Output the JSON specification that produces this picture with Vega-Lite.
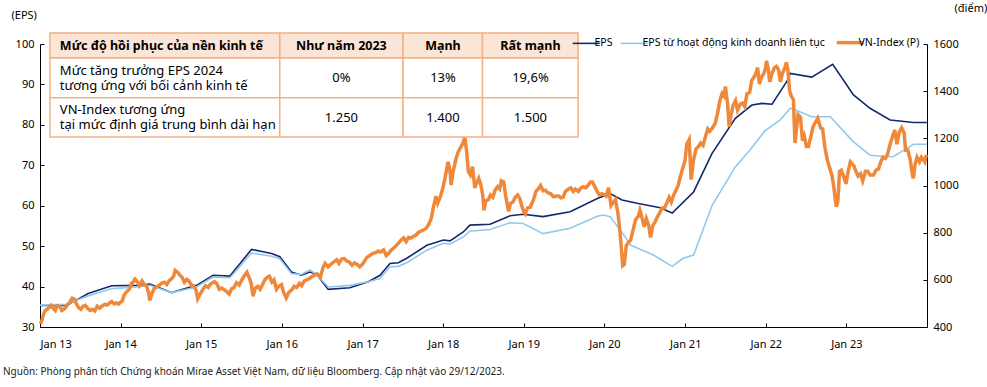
{
"$schema":"https://vega.github.io/schema/vega-lite/v6.json",
"width":887,"height":283,
"autosize":{"type":"none"},
"padding":{"left":40,"top":44,"right":60,"bottom":60},
"background":"white",
"config":{"font":"Noto Sans","view":{"stroke":null},
"axis":{"domainColor":"#000","tickColor":"#000","labelColor":"#000","labelFontSize":11,"titleFontSize":11,"titleFontWeight":"normal","titleColor":"#000","grid":false,"domainWidth":1,"tickWidth":1}},
"title":{"text":"Nguồn: Phòng phân tích Chứng khoán Mirae Asset Việt Nam, dữ liệu Bloomberg. Cập nhật vào 29/12/2023.","orient":"bottom","anchor":"start","frame":"group","fontSize":10,"fontWeight":"normal","color":"#222","dx":-37,"offset":18},
"datasets":{
"eps":[
{"d":"2013-01-01","s":"EPS","v":35.3},{"d":"2013-05-01","s":"EPS","v":35.3},{"d":"2013-08-07","s":"EPS","v":38.3},{"d":"2013-11-22","s":"EPS","v":40.2},{"d":"2014-03-15","s":"EPS","v":40.3},{"d":"2014-05-14","s":"EPS","v":40.6},{"d":"2014-08-20","s":"EPS","v":38.5},{"d":"2014-12-11","s":"EPS","v":40.3},{"d":"2015-02-24","s":"EPS","v":42.8},{"d":"2015-05-11","s":"EPS","v":42.6},{"d":"2015-08-17","s":"EPS","v":49.2},{"d":"2015-11-16","s":"EPS","v":48.2},{"d":"2015-12-23","s":"EPS","v":47.4},{"d":"2016-02-14","s":"EPS","v":43.6},{"d":"2016-03-30","s":"EPS","v":42.8},{"d":"2016-05-07","s":"EPS","v":43.6},{"d":"2016-06-06","s":"EPS","v":43.1},{"d":"2016-07-29","s":"EPS","v":39.3},{"d":"2016-11-04","s":"EPS","v":39.7},{"d":"2017-01-27","s":"EPS","v":41.2},{"d":"2017-03-21","s":"EPS","v":42.8},{"d":"2017-05-05","s":"EPS","v":45.7},{"d":"2017-06-12","s":"EPS","v":45.9},{"d":"2017-07-20","s":"EPS","v":47.0},{"d":"2017-10-19","s":"EPS","v":50.2},{"d":"2018-01-02","s":"EPS","v":51.5},{"d":"2018-02-01","s":"EPS","v":51.3},{"d":"2018-04-02","s":"EPS","v":53.5},{"d":"2018-05-02","s":"EPS","v":55.2},{"d":"2018-08-01","s":"EPS","v":55.4},{"d":"2018-10-31","s":"EPS","v":57.5},{"d":"2018-12-29","s":"EPS","v":57.9},{"d":"2019-03-29","s":"EPS","v":57.3},{"d":"2019-07-30","s":"EPS","v":58.5},{"d":"2019-11-30","s":"EPS","v":61.8},{"d":"2020-01-27","s":"EPS","v":63.0},{"d":"2020-03-21","s":"EPS","v":61.4},{"d":"2020-05-28","s":"EPS","v":60.6},{"d":"2020-09-10","s":"EPS","v":59.5},{"d":"2020-11-03","s":"EPS","v":58.2},{"d":"2021-02-08","s":"EPS","v":63.4},{"d":"2021-05-02","s":"EPS","v":72.9},{"d":"2021-08-16","s":"EPS","v":81.6},{"d":"2021-10-30","s":"EPS","v":84.9},{"d":"2021-12-15","s":"EPS","v":85.3},{"d":"2022-01-29","s":"EPS","v":85.1},{"d":"2022-04-07","s":"EPS","v":90.8},{"d":"2022-04-22","s":"EPS","v":92.7},{"d":"2022-07-28","s":"EPS","v":91.8},{"d":"2022-10-31","s":"EPS","v":95.0},{"d":"2023-02-02","s":"EPS","v":87.4},{"d":"2023-04-18","s":"EPS","v":84.1},{"d":"2023-07-18","s":"EPS","v":81.2},{"d":"2023-11-01","s":"EPS","v":80.6},{"d":"2023-12-31","s":"EPS","v":80.6},
{"d":"2013-01-01","s":"EPS từ hoạt động kinh doanh liên tục","v":35.4},{"d":"2013-05-01","s":"EPS từ hoạt động kinh doanh liên tục","v":35.6},{"d":"2013-08-07","s":"EPS từ hoạt động kinh doanh liên tục","v":37.7},{"d":"2013-11-22","s":"EPS từ hoạt động kinh doanh liên tục","v":39.5},{"d":"2014-03-15","s":"EPS từ hoạt động kinh doanh liên tục","v":39.9},{"d":"2014-05-14","s":"EPS từ hoạt động kinh doanh liên tục","v":40.3},{"d":"2014-08-20","s":"EPS từ hoạt động kinh doanh liên tục","v":38.5},{"d":"2014-12-11","s":"EPS từ hoạt động kinh doanh liên tục","v":39.9},{"d":"2015-02-24","s":"EPS từ hoạt động kinh doanh liên tục","v":42.4},{"d":"2015-05-11","s":"EPS từ hoạt động kinh doanh liên tục","v":42.2},{"d":"2015-08-17","s":"EPS từ hoạt động kinh doanh liên tục","v":48.3},{"d":"2015-11-16","s":"EPS từ hoạt động kinh doanh liên tục","v":47.5},{"d":"2015-12-23","s":"EPS từ hoạt động kinh doanh liên tục","v":46.9},{"d":"2016-02-14","s":"EPS từ hoạt động kinh doanh liên tục","v":43.2},{"d":"2016-03-30","s":"EPS từ hoạt động kinh doanh liên tục","v":43.0},{"d":"2016-05-07","s":"EPS từ hoạt động kinh doanh liên tục","v":44.1},{"d":"2016-06-06","s":"EPS từ hoạt động kinh doanh liên tục","v":43.0},{"d":"2016-07-29","s":"EPS từ hoạt động kinh doanh liên tục","v":39.9},{"d":"2016-11-04","s":"EPS từ hoạt động kinh doanh liên tục","v":40.3},{"d":"2017-01-27","s":"EPS từ hoạt động kinh doanh liên tục","v":41.2},{"d":"2017-03-21","s":"EPS từ hoạt động kinh doanh liên tục","v":42.0},{"d":"2017-05-05","s":"EPS từ hoạt động kinh doanh liên tục","v":44.9},{"d":"2017-06-12","s":"EPS từ hoạt động kinh doanh liên tục","v":45.0},{"d":"2017-07-20","s":"EPS từ hoạt động kinh doanh liên tục","v":45.9},{"d":"2017-10-19","s":"EPS từ hoạt động kinh doanh liên tục","v":49.0},{"d":"2018-01-02","s":"EPS từ hoạt động kinh doanh liên tục","v":50.7},{"d":"2018-02-01","s":"EPS từ hoạt động kinh doanh liên tục","v":50.5},{"d":"2018-04-02","s":"EPS từ hoạt động kinh doanh liên tục","v":52.3},{"d":"2018-05-02","s":"EPS từ hoạt động kinh doanh liên tục","v":53.7},{"d":"2018-08-01","s":"EPS từ hoạt động kinh doanh liên tục","v":54.1},{"d":"2018-10-31","s":"EPS từ hoạt động kinh doanh liên tục","v":55.8},{"d":"2018-12-29","s":"EPS từ hoạt động kinh doanh liên tục","v":55.6},{"d":"2019-03-29","s":"EPS từ hoạt động kinh doanh liên tục","v":53.1},{"d":"2019-07-30","s":"EPS từ hoạt động kinh doanh liên tục","v":54.4},{"d":"2019-11-30","s":"EPS từ hoạt động kinh doanh liên tục","v":57.4},{"d":"2019-12-27","s":"EPS từ hoạt động kinh doanh liên tục","v":57.7},{"d":"2020-01-27","s":"EPS từ hoạt động kinh doanh liên tục","v":57.3},{"d":"2020-03-25","s":"EPS từ hoạt động kinh doanh liên tục","v":53.1},{"d":"2020-04-30","s":"EPS từ hoạt động kinh doanh liên tục","v":50.2},{"d":"2020-08-10","s":"EPS từ hoạt động kinh doanh liên tục","v":47.8},{"d":"2020-11-03","s":"EPS từ hoạt động kinh doanh liên tục","v":45.0},{"d":"2020-12-23","s":"EPS từ hoạt động kinh doanh liên tục","v":47.0},{"d":"2021-02-08","s":"EPS từ hoạt động kinh doanh liên tục","v":47.8},{"d":"2021-05-03","s":"EPS từ hoạt động kinh doanh liên tục","v":60.1},{"d":"2021-08-16","s":"EPS từ hoạt động kinh doanh liên tục","v":69.6},{"d":"2021-10-21","s":"EPS từ hoạt động kinh doanh liên tục","v":73.8},{"d":"2021-12-28","s":"EPS từ hoạt động kinh doanh liên tục","v":78.5},{"d":"2022-03-07","s":"EPS từ hoạt động kinh doanh liên tục","v":81.2},{"d":"2022-04-22","s":"EPS từ hoạt động kinh doanh liên tục","v":84.1},{"d":"2022-05-15","s":"EPS từ hoạt động kinh doanh liên tục","v":83.7},{"d":"2022-07-28","s":"EPS từ hoạt động kinh doanh liên tục","v":82.0},{"d":"2022-10-20","s":"EPS từ hoạt động kinh doanh liên tục","v":82.0},{"d":"2023-02-02","s":"EPS từ hoạt động kinh doanh liên tục","v":75.8},{"d":"2023-04-18","s":"EPS từ hoạt động kinh doanh liên tục","v":72.5},{"d":"2023-06-02","s":"EPS từ hoạt động kinh doanh liên tục","v":72.3},{"d":"2023-08-01","s":"EPS từ hoạt động kinh doanh liên tục","v":72.1},{"d":"2023-11-01","s":"EPS từ hoạt động kinh doanh liên tục","v":75.2},{"d":"2023-12-31","s":"EPS từ hoạt động kinh doanh liên tục","v":75.2}
],
"vn":[
{"d":"2013-01-02","v":413},{"d":"2013-01-09","v":425},{"d":"2013-01-17","v":455},{"d":"2013-01-25","v":470},{"d":"2013-02-06","v":478},{"d":"2013-02-20","v":492},{"d":"2013-03-01","v":480},{"d":"2013-03-11","v":470},{"d":"2013-03-20","v":490},{"d":"2013-04-01","v":487},{"d":"2013-04-10","v":470},{"d":"2013-04-22","v":478},{"d":"2013-05-06","v":495},{"d":"2013-05-16","v":505},{"d":"2013-05-27","v":522},{"d":"2013-06-06","v":518},{"d":"2013-06-14","v":500},{"d":"2013-06-25","v":482},{"d":"2013-07-05","v":475},{"d":"2013-07-15","v":488},{"d":"2013-07-25","v":492},{"d":"2013-08-06","v":478},{"d":"2013-08-15","v":470},{"d":"2013-08-26","v":475},{"d":"2013-09-06","v":468},{"d":"2013-09-17","v":488},{"d":"2013-09-27","v":480},{"d":"2013-10-08","v":488},{"d":"2013-10-21","v":496},{"d":"2013-11-01","v":493},{"d":"2013-11-12","v":502},{"d":"2013-11-22","v":508},{"d":"2013-12-03","v":498},{"d":"2013-12-13","v":502},{"d":"2013-12-23","v":497},{"d":"2013-12-31","v":505},
{"d":"2014-01-08","v":510},{"d":"2014-01-17","v":535},{"d":"2014-01-28","v":550},{"d":"2014-02-10","v":560},{"d":"2014-02-19","v":585},{"d":"2014-02-27","v":590},{"d":"2014-03-07","v":603},{"d":"2014-03-18","v":592},{"d":"2014-03-27","v":575},{"d":"2014-04-08","v":595},{"d":"2014-04-18","v":580},{"d":"2014-04-28","v":575},{"d":"2014-05-08","v":545},{"d":"2014-05-13","v":512},{"d":"2014-05-22","v":540},{"d":"2014-06-03","v":565},{"d":"2014-06-13","v":570},{"d":"2014-06-25","v":577},{"d":"2014-07-07","v":586},{"d":"2014-07-18","v":590},{"d":"2014-07-29","v":580},{"d":"2014-08-08","v":595},{"d":"2014-08-20","v":605},{"d":"2014-08-29","v":615},{"d":"2014-09-05","v":640},{"d":"2014-09-16","v":632},{"d":"2014-09-26","v":620},{"d":"2014-10-07","v":610},{"d":"2014-10-17","v":590},{"d":"2014-10-28","v":602},{"d":"2014-11-07","v":595},{"d":"2014-11-19","v":576},{"d":"2014-11-28","v":575},{"d":"2014-12-09","v":555},{"d":"2014-12-16","v":520},{"d":"2014-12-24","v":535},{"d":"2014-12-31","v":545},
{"d":"2015-01-09","v":560},{"d":"2015-01-21","v":575},{"d":"2015-02-02","v":568},{"d":"2015-02-12","v":582},{"d":"2015-03-02","v":592},{"d":"2015-03-12","v":585},{"d":"2015-03-24","v":560},{"d":"2015-04-03","v":565},{"d":"2015-04-15","v":558},{"d":"2015-04-27","v":550},{"d":"2015-05-08","v":540},{"d":"2015-05-19","v":562},{"d":"2015-05-29","v":567},{"d":"2015-06-10","v":588},{"d":"2015-06-22","v":578},{"d":"2015-07-03","v":598},{"d":"2015-07-14","v":615},{"d":"2015-07-27","v":632},{"d":"2015-08-06","v":610},{"d":"2015-08-14","v":590},{"d":"2015-08-24","v":530},{"d":"2015-09-03","v":565},{"d":"2015-09-15","v":572},{"d":"2015-09-25","v":560},{"d":"2015-10-06","v":580},{"d":"2015-10-16","v":600},{"d":"2015-10-27","v":610},{"d":"2015-11-06","v":615},{"d":"2015-11-17","v":590},{"d":"2015-11-27","v":600},{"d":"2015-12-08","v":560},{"d":"2015-12-18","v":572},{"d":"2015-12-31","v":579},
{"d":"2016-01-08","v":550},{"d":"2016-01-21","v":523},{"d":"2016-02-01","v":545},{"d":"2016-02-17","v":560},{"d":"2016-02-26","v":572},{"d":"2016-03-09","v":568},{"d":"2016-03-21","v":585},{"d":"2016-03-31","v":575},{"d":"2016-04-12","v":595},{"d":"2016-04-22","v":600},{"d":"2016-05-05","v":605},{"d":"2016-05-18","v":615},{"d":"2016-05-30","v":620},{"d":"2016-06-09","v":625},{"d":"2016-06-24","v":612},{"d":"2016-07-05","v":650},{"d":"2016-07-15","v":670},{"d":"2016-07-29","v":655},{"d":"2016-08-09","v":665},{"d":"2016-08-22","v":675},{"d":"2016-09-06","v":685},{"d":"2016-09-16","v":670},{"d":"2016-09-28","v":688},{"d":"2016-10-10","v":690},{"d":"2016-10-21","v":680},{"d":"2016-11-02","v":675},{"d":"2016-11-14","v":662},{"d":"2016-11-25","v":672},{"d":"2016-12-07","v":665},{"d":"2016-12-19","v":655},{"d":"2016-12-30","v":665},
{"d":"2017-01-10","v":680},{"d":"2017-01-20","v":695},{"d":"2017-02-06","v":705},{"d":"2017-02-17","v":712},{"d":"2017-03-01","v":715},{"d":"2017-03-13","v":722},{"d":"2017-03-24","v":718},{"d":"2017-04-06","v":727},{"d":"2017-04-18","v":703},{"d":"2017-04-28","v":712},{"d":"2017-05-10","v":725},{"d":"2017-05-22","v":735},{"d":"2017-06-02","v":745},{"d":"2017-06-14","v":758},{"d":"2017-06-26","v":770},{"d":"2017-07-06","v":778},{"d":"2017-07-17","v":762},{"d":"2017-07-28","v":780},{"d":"2017-08-09","v":778},{"d":"2017-08-21","v":785},{"d":"2017-08-31","v":790},{"d":"2017-09-12","v":802},{"d":"2017-09-25","v":808},{"d":"2017-10-05","v":812},{"d":"2017-10-17","v":820},{"d":"2017-10-27","v":835},{"d":"2017-11-08","v":860},{"d":"2017-11-17","v":905},{"d":"2017-11-29","v":955},{"d":"2017-12-07","v":925},{"d":"2017-12-18","v":950},{"d":"2017-12-29","v":984},
{"d":"2018-01-09","v":1030},{"d":"2018-01-23","v":1100},{"d":"2018-01-31","v":1070},{"d":"2018-02-06","v":1002},{"d":"2018-02-13","v":1050},{"d":"2018-02-27","v":1110},{"d":"2018-03-09","v":1140},{"d":"2018-03-20","v":1160},{"d":"2018-03-29","v":1175},{"d":"2018-04-09","v":1205},{"d":"2018-04-17","v":1145},{"d":"2018-04-25","v":1060},{"d":"2018-05-04","v":1045},{"d":"2018-05-14","v":1080},{"d":"2018-05-24","v":990},{"d":"2018-06-01","v":1010},{"d":"2018-06-11","v":1030},{"d":"2018-06-21","v":1000},{"d":"2018-06-29","v":960},{"d":"2018-07-05","v":895},{"d":"2018-07-13","v":935},{"d":"2018-07-24","v":940},{"d":"2018-08-03","v":960},{"d":"2018-08-14","v":950},{"d":"2018-08-24","v":980},{"d":"2018-09-04","v":995},{"d":"2018-09-14","v":985},{"d":"2018-09-21","v":1020},{"d":"2018-10-02","v":1015},{"d":"2018-10-11","v":955},{"d":"2018-10-24","v":890},{"d":"2018-11-02","v":925},{"d":"2018-11-13","v":930},{"d":"2018-11-23","v":950},{"d":"2018-12-04","v":960},{"d":"2018-12-14","v":945},{"d":"2018-12-24","v":910},{"d":"2018-12-31","v":892},
{"d":"2019-01-08","v":880},{"d":"2019-01-18","v":905},{"d":"2019-01-30","v":908},{"d":"2019-02-14","v":940},{"d":"2019-02-25","v":975},{"d":"2019-03-07","v":985},{"d":"2019-03-18","v":1000},{"d":"2019-03-29","v":978},{"d":"2019-04-09","v":980},{"d":"2019-04-19","v":970},{"d":"2019-05-03","v":965},{"d":"2019-05-16","v":952},{"d":"2019-05-28","v":955},{"d":"2019-06-07","v":955},{"d":"2019-06-18","v":948},{"d":"2019-06-28","v":950},{"d":"2019-07-09","v":975},{"d":"2019-07-22","v":985},{"d":"2019-08-02","v":990},{"d":"2019-08-13","v":975},{"d":"2019-08-23","v":985},{"d":"2019-09-05","v":975},{"d":"2019-09-17","v":990},{"d":"2019-09-27","v":995},{"d":"2019-10-08","v":990},{"d":"2019-10-18","v":1000},{"d":"2019-10-30","v":1015},{"d":"2019-11-08","v":1015},{"d":"2019-11-19","v":995},{"d":"2019-11-29","v":975},{"d":"2019-12-10","v":960},{"d":"2019-12-20","v":965},{"d":"2019-12-31","v":961},
{"d":"2020-01-09","v":955},{"d":"2020-01-20","v":990},{"d":"2020-01-31","v":915},{"d":"2020-02-11","v":930},{"d":"2020-02-20","v":940},{"d":"2020-03-02","v":885},{"d":"2020-03-12","v":800},{"d":"2020-03-19","v":720},{"d":"2020-03-24","v":660},{"d":"2020-03-31","v":665},{"d":"2020-04-09","v":745},{"d":"2020-04-20","v":760},{"d":"2020-04-29","v":768},{"d":"2020-05-11","v":815},{"d":"2020-05-21","v":855},{"d":"2020-06-03","v":870},{"d":"2020-06-10","v":895},{"d":"2020-06-19","v":865},{"d":"2020-06-29","v":825},{"d":"2020-07-09","v":860},{"d":"2020-07-20","v":830},{"d":"2020-07-28","v":780},{"d":"2020-08-07","v":830},{"d":"2020-08-17","v":845},{"d":"2020-08-27","v":865},{"d":"2020-09-08","v":885},{"d":"2020-09-18","v":905},{"d":"2020-09-29","v":905},{"d":"2020-10-09","v":925},{"d":"2020-10-20","v":950},{"d":"2020-10-30","v":930},{"d":"2020-11-10","v":960},{"d":"2020-11-20","v":980},{"d":"2020-11-30","v":1000},{"d":"2020-12-09","v":1035},{"d":"2020-12-18","v":1065},{"d":"2020-12-31","v":1104},
{"d":"2021-01-08","v":1175},{"d":"2021-01-19","v":1195},{"d":"2021-01-28","v":1025},{"d":"2021-02-08","v":1110},{"d":"2021-02-19","v":1155},{"d":"2021-03-02","v":1165},{"d":"2021-03-12","v":1180},{"d":"2021-03-23","v":1170},{"d":"2021-04-02","v":1205},{"d":"2021-04-13","v":1240},{"d":"2021-04-22","v":1230},{"d":"2021-05-05","v":1245},{"d":"2021-05-17","v":1265},{"d":"2021-05-27","v":1305},{"d":"2021-06-07","v":1360},{"d":"2021-06-17","v":1390},{"d":"2021-06-25","v":1380},{"d":"2021-07-02","v":1420},{"d":"2021-07-12","v":1345},{"d":"2021-07-19","v":1250},{"d":"2021-07-28","v":1300},{"d":"2021-08-06","v":1340},{"d":"2021-08-17","v":1360},{"d":"2021-08-26","v":1320},{"d":"2021-09-07","v":1345},{"d":"2021-09-17","v":1350},{"d":"2021-09-28","v":1335},{"d":"2021-10-08","v":1390},{"d":"2021-10-20","v":1395},{"d":"2021-10-29","v":1445},{"d":"2021-11-09","v":1460},{"d":"2021-11-19","v":1480},{"d":"2021-11-25","v":1500},{"d":"2021-12-03","v":1430},{"d":"2021-12-13","v":1460},{"d":"2021-12-23","v":1475},{"d":"2021-12-31","v":1498},
{"d":"2022-01-04","v":1528},{"d":"2022-01-12","v":1495},{"d":"2022-01-19","v":1440},{"d":"2022-01-27","v":1470},{"d":"2022-02-09","v":1500},{"d":"2022-02-18","v":1505},{"d":"2022-02-28","v":1490},{"d":"2022-03-08","v":1440},{"d":"2022-03-17","v":1475},{"d":"2022-03-29","v":1500},{"d":"2022-04-04","v":1522},{"d":"2022-04-11","v":1490},{"d":"2022-04-19","v":1400},{"d":"2022-04-26","v":1380},{"d":"2022-05-06","v":1365},{"d":"2022-05-13","v":1180},{"d":"2022-05-20","v":1240},{"d":"2022-05-27","v":1300},{"d":"2022-06-07","v":1290},{"d":"2022-06-16","v":1190},{"d":"2022-06-24","v":1210},{"d":"2022-07-04","v":1165},{"d":"2022-07-13","v":1165},{"d":"2022-07-22","v":1200},{"d":"2022-08-03","v":1250},{"d":"2022-08-12","v":1265},{"d":"2022-08-24","v":1285},{"d":"2022-09-06","v":1245},{"d":"2022-09-15","v":1240},{"d":"2022-09-26","v":1160},{"d":"2022-10-06","v":1110},{"d":"2022-10-17","v":1075},{"d":"2022-10-27","v":1045},{"d":"2022-11-04","v":1000},{"d":"2022-11-16","v":910},{"d":"2022-11-23","v":930},{"d":"2022-12-01","v":1060},{"d":"2022-12-09","v":1065},{"d":"2022-12-19","v":1040},{"d":"2022-12-30","v":1007},
{"d":"2023-01-09","v":1060},{"d":"2023-01-19","v":1100},{"d":"2023-02-03","v":1085},{"d":"2023-02-13","v":1060},{"d":"2023-02-23","v":1040},{"d":"2023-03-06","v":1050},{"d":"2023-03-16","v":1020},{"d":"2023-03-28","v":1060},{"d":"2023-04-07","v":1060},{"d":"2023-04-18","v":1045},{"d":"2023-05-04","v":1045},{"d":"2023-05-15","v":1065},{"d":"2023-05-26","v":1070},{"d":"2023-06-06","v":1100},{"d":"2023-06-15","v":1120},{"d":"2023-06-27","v":1115},{"d":"2023-07-07","v":1135},{"d":"2023-07-18","v":1175},{"d":"2023-07-28","v":1205},{"d":"2023-08-08","v":1235},{"d":"2023-08-18","v":1175},{"d":"2023-08-28","v":1225},{"d":"2023-09-08","v":1245},{"d":"2023-09-19","v":1225},{"d":"2023-09-26","v":1150},{"d":"2023-10-06","v":1150},{"d":"2023-10-17","v":1110},{"d":"2023-10-26","v":1050},{"d":"2023-10-31","v":1030},{"d":"2023-11-08","v":1090},{"d":"2023-11-17","v":1120},{"d":"2023-11-28","v":1100},{"d":"2023-12-07","v":1120},{"d":"2023-12-15","v":1110},{"d":"2023-12-22","v":1100},{"d":"2023-12-29","v":1130}
],
"cells":[
{"part":"header","x0":"2013-02-15","x1":"2015-12-23","y0":96.53,"y1":102.72},
{"part":"header","x0":"2015-12-23","x1":"2017-07-03","y0":96.53,"y1":102.72},
{"part":"header","x0":"2017-07-03","x1":"2018-06-28","y0":96.53,"y1":102.72},
{"part":"header","x0":"2018-06-28","x1":"2019-09-04","y0":96.53,"y1":102.72},
{"part":"body","x0":"2013-02-15","x1":"2015-12-23","y0":86.71,"y1":96.53},
{"part":"body","x0":"2015-12-23","x1":"2017-07-03","y0":86.71,"y1":96.53},
{"part":"body","x0":"2017-07-03","x1":"2018-06-28","y0":86.71,"y1":96.53},
{"part":"body","x0":"2018-06-28","x1":"2019-09-04","y0":86.71,"y1":96.53},
{"part":"body","x0":"2013-02-15","x1":"2015-12-23","y0":76.98,"y1":86.71},
{"part":"body","x0":"2015-12-23","x1":"2017-07-03","y0":76.98,"y1":86.71},
{"part":"body","x0":"2017-07-03","x1":"2018-06-28","y0":76.98,"y1":86.71},
{"part":"body","x0":"2018-06-28","x1":"2019-09-04","y0":76.98,"y1":86.71}
],
"texts":[
{"part":"header","col":1,"t":"Mức độ hồi phục của nền kinh tế","x":"2013-04-01","y":99.6},
{"part":"header","col":2,"t":"Như năm 2023","x":"2016-09-27","y":99.6},
{"part":"header","col":3,"t":"Mạnh","x":"2017-12-31","y":99.6},
{"part":"header","col":4,"t":"Rất mạnh","x":"2019-01-31","y":99.6},
{"part":"body","col":1,"t":"Mức tăng trưởng EPS 2024\ntương ứng với bối cảnh kinh tế","x":"2013-04-01","y":93.3},
{"part":"body","col":2,"t":"0%","x":"2016-09-27","y":91.6},
{"part":"body","col":3,"t":"13%","x":"2017-12-31","y":91.6},
{"part":"body","col":4,"t":"19,6%","x":"2019-01-31","y":91.6},
{"part":"body","col":1,"t":"VN-Index tương ứng\ntại mức định giá trung bình dài hạn","x":"2013-04-01","y":83.65},
{"part":"body","col":2,"t":"1.250","x":"2016-09-27","y":81.8},
{"part":"body","col":3,"t":"1.400","x":"2017-12-31","y":81.8},
{"part":"body","col":4,"t":"1.500","x":"2019-01-31","y":81.8}
]
},
"layer":[
{"data":{"name":"eps"},
 "mark":{"type":"line","strokeWidth":1.6},
 "encoding":{
  "x":{"field":"d","type":"temporal","title":null,"scale":{"domain":[{"year":2013,"month":1,"date":1},{"year":2024,"month":1,"date":1}]},
   "axis":{"title":null,"format":"%b %y","values":[{"year":2013,"month":1,"date":1},{"year":2014,"month":1,"date":1},{"year":2015,"month":1,"date":1},{"year":2016,"month":1,"date":1},{"year":2017,"month":1,"date":1},{"year":2018,"month":1,"date":1},{"year":2019,"month":1,"date":1},{"year":2020,"month":1,"date":1},{"year":2021,"month":1,"date":1},{"year":2022,"month":1,"date":1},{"year":2023,"month":1,"date":1}],"tickSize":-4,"labelPadding":15}},
  "y":{"field":"v","type":"quantitative","scale":{"domain":[30,100],"nice":false,"zero":false},
   "axis":{"orient":"left","values":[30,40,50,60,70,80,90,100],"title":"(EPS)","titleAngle":0,"titleX":-29,"titleY":-29,"titleAlign":"left","titleBaseline":"middle","tickSize":-4,"labelPadding":10}},
  "color":{"field":"s","type":"nominal","scale":{"domain":["EPS","EPS từ hoạt động kinh doanh liên tục","VN-Index (P)"],"range":["#13296b","#90c9ec","#f0883a"]},
   "legend":{"orient":"none","legendX":541,"legendY":-7,"direction":"horizontal","title":null,"symbolType":"stroke","symbolSize":729,"labelFontSize":10.5,"labelColor":"#000","labelLimit":400,"columnPadding":4,"labelOffset":3,
    "encode":{"symbols":{"update":{"strokeWidth":{"signal":"datum.value === 'VN-Index (P)' ? 3.5 : 1.6"}}}}}}
 }},
{"data":{"name":"vn"},
 "mark":{"type":"line","strokeWidth":3.5},
 "encoding":{
  "x":{"field":"d","type":"temporal","title":null},
  "y":{"field":"v","type":"quantitative","scale":{"domain":[400,1600],"nice":false,"zero":false},
   "axis":{"orient":"right","values":[400,600,800,1000,1200,1400,1600],"format":"d","title":"(điểm)","titleAngle":0,"titleX":27,"titleY":-36,"titleAlign":"left","titleBaseline":"middle","tickSize":-4,"labelPadding":10}},
  "color":{"datum":"VN-Index (P)","type":"nominal"}
 }},
{"data":{"name":"cells"},
 "transform":[{"filter":"datum.part === 'header'"}],
 "mark":{"type":"rect","fill":"#fbe5d6","stroke":"#f4b183","strokeWidth":1.5},
 "encoding":{
  "x":{"field":"x0","type":"temporal","title":null},"x2":{"field":"x1"},
  "y":{"field":"y0","type":"quantitative","scale":{"domain":[30,100],"nice":false,"zero":false},"axis":null},"y2":{"field":"y1"}
 }},
{"data":{"name":"cells"},
 "transform":[{"filter":"datum.part === 'body'"}],
 "mark":{"type":"rect","fill":"#ffffff","stroke":"#f4b183","strokeWidth":1.5},
 "encoding":{
  "x":{"field":"x0","type":"temporal","title":null},"x2":{"field":"x1"},
  "y":{"field":"y0","type":"quantitative","scale":{"domain":[30,100],"nice":false,"zero":false},"axis":null},"y2":{"field":"y1"}
 }},
{"data":{"name":"texts"},
 "transform":[{"filter":"datum.part === 'header' && datum.col === 1"}],
 "mark":{"type":"text","align":"left","baseline":"middle","fontSize":12.5,"fontWeight":"bold","color":"#000"},
 "encoding":{"x":{"field":"x","type":"temporal","title":null},"y":{"field":"y","type":"quantitative","scale":{"domain":[30,100],"nice":false,"zero":false},"axis":null},"text":{"field":"t"}}},
{"data":{"name":"texts"},
 "transform":[{"filter":"datum.part === 'header' && datum.col !== 1"}],
 "mark":{"type":"text","align":"center","baseline":"middle","fontSize":12.5,"fontWeight":"bold","color":"#000"},
 "encoding":{"x":{"field":"x","type":"temporal","title":null},"y":{"field":"y","type":"quantitative","scale":{"domain":[30,100],"nice":false,"zero":false},"axis":null},"text":{"field":"t"}}},
{"data":{"name":"texts"},
 "transform":[{"filter":"datum.part === 'body' && datum.col === 1"}],
 "mark":{"type":"text","align":"left","baseline":"middle","fontSize":13,"lineHeight":15,"lineBreak":"\n","color":"#000"},
 "encoding":{"x":{"field":"x","type":"temporal","title":null},"y":{"field":"y","type":"quantitative","scale":{"domain":[30,100],"nice":false,"zero":false},"axis":null},"text":{"field":"t"}}},
{"data":{"name":"texts"},
 "transform":[{"filter":"datum.part === 'body' && datum.col !== 1"}],
 "mark":{"type":"text","align":"center","baseline":"middle","fontSize":13,"color":"#000"},
 "encoding":{"x":{"field":"x","type":"temporal","title":null},"y":{"field":"y","type":"quantitative","scale":{"domain":[30,100],"nice":false,"zero":false},"axis":null},"text":{"field":"t"}}}
],
"resolve":{"scale":{"y":"independent"}}
}
